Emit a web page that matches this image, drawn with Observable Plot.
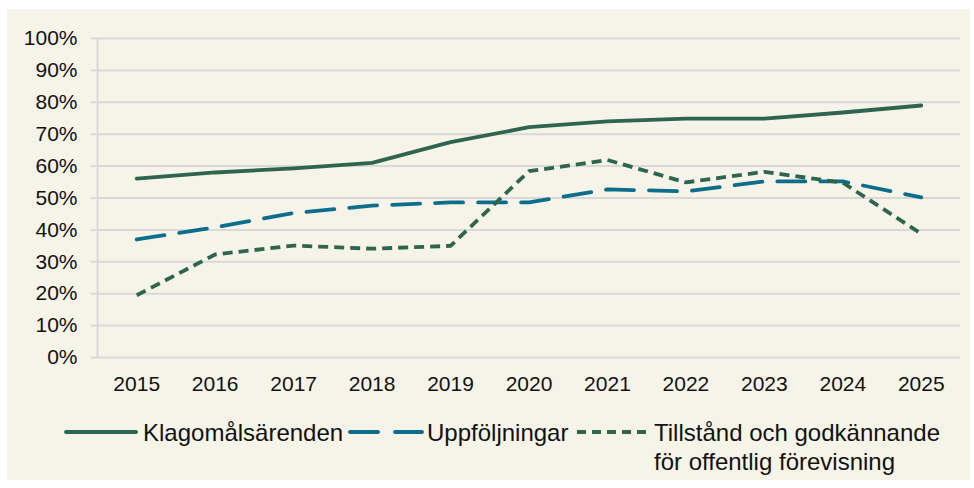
<!DOCTYPE html>
<html>
<head>
<meta charset="utf-8">
<script src="https://cdn.jsdelivr.net/npm/d3@7"></script>
<script src="https://cdn.jsdelivr.net/npm/@observablehq/plot@0.6"></script>
<style>
  html, body { margin: 0; padding: 0; background: #ffffff; }
  body { width: 974px; height: 488px; position: relative; overflow: hidden; font-family: "Liberation Sans", Arial, sans-serif; }
  #panel { position: absolute; left: 7px; top: 9px; width: 963px; height: 471px; background: #f6f4e9; }
  #chart { position: absolute; left: 0; top: 0; }
  .leg { position: absolute; font-size: 24px; line-height: 29px; color: #111; white-space: nowrap; }
  .sw { position: absolute; }
</style>
</head>
<body>
<div id="panel"></div>
<div id="chart"></div>
<svg class="sw" style="left:60px;top:422px" width="82" height="20"><line x1="6" x2="76" y1="10" y2="10" stroke="#2f654d" stroke-width="4" stroke-linecap="round"/></svg>
<div class="leg" style="left:143px;top:418px">Klagomålsärenden</div>
<svg class="sw" style="left:344px;top:422px" width="84" height="20"><line x1="6" x2="78" y1="10" y2="10" stroke="#0c6e8c" stroke-width="4" stroke-linecap="round" stroke-dasharray="28,17"/></svg>
<div class="leg" style="left:427px;top:418px">Uppföljningar</div>
<svg class="sw" style="left:572px;top:422px" width="80" height="20"><line x1="5" x2="75" y1="10" y2="10" stroke="#2f654d" stroke-width="4" stroke-dasharray="9,6"/></svg>
<div class="leg" style="left:654px;top:418px">Tillstånd och godkännande<br>för offentlig förevisning</div>
<script>
const years = [2015, 2016, 2017, 2018, 2019, 2020, 2021, 2022, 2023, 2024, 2025];
const klagomal = [0.561, 0.580, 0.593, 0.610, 0.675, 0.722, 0.740, 0.749, 0.749, 0.768, 0.790];
const uppfoljningar = [0.370, 0.408, 0.453, 0.476, 0.486, 0.486, 0.527, 0.521, 0.552, 0.552, 0.502];
const tillstand = [0.195, 0.323, 0.351, 0.341, 0.350, 0.584, 0.619, 0.549, 0.582, 0.548, 0.388];
const yTicks = [0, 0.1, 0.2, 0.3, 0.4, 0.5, 0.6, 0.7, 0.8, 0.9, 1.0];

const green = "#2f654d";
const blue = "#0c6e8c";
const rows = (vals) => years.map((y, i) => ({year: y, value: vals[i]}));

const chart = Plot.plot({
  width: 974,
  height: 400,
  marginLeft: 97,
  marginRight: 14,
  marginTop: 38,
  marginBottom: 43,
  style: {background: "transparent", fontFamily: "'Liberation Sans', Arial, sans-serif", fontSize: "21px", color: "#111"},
  x: {domain: [2014.5, 2025.5], axis: null},
  y: {domain: [0, 1], axis: null},
  marks: [
    Plot.ruleY(yTicks, {stroke: "#d9d9d9", strokeWidth: 2, insetLeft: -6}),
    Plot.ruleX([2014.5], {y1: 0, y2: 1, stroke: "#d9d9d9", strokeWidth: 2}),
    Plot.axisY({ticks: yTicks, tickSize: 0, tickPadding: 20, tickFormat: d => Math.round(d * 100) + "%", fontSize: 21, fill: "#111", label: null}),
    Plot.axisX({ticks: years, tickSize: 0, tickPadding: 19, tickFormat: d => String(d), fontSize: 21, fill: "#111", label: null}),
    Plot.line(rows(klagomal), {x: "year", y: "value", stroke: green, strokeWidth: 3.8, strokeLinecap: "round", strokeLinejoin: "round"}),
    Plot.line(rows(uppfoljningar), {x: "year", y: "value", stroke: blue, strokeWidth: 3.8, strokeLinecap: "round", strokeLinejoin: "round", strokeDasharray: "28,15"}),
    Plot.line(rows(tillstand), {x: "year", y: "value", stroke: green, strokeWidth: 3.8, strokeLinecap: "butt", strokeLinejoin: "round", strokeDasharray: "10,6"})
  ]
});
document.getElementById("chart").appendChild(chart);
</script>
</body>
</html>
